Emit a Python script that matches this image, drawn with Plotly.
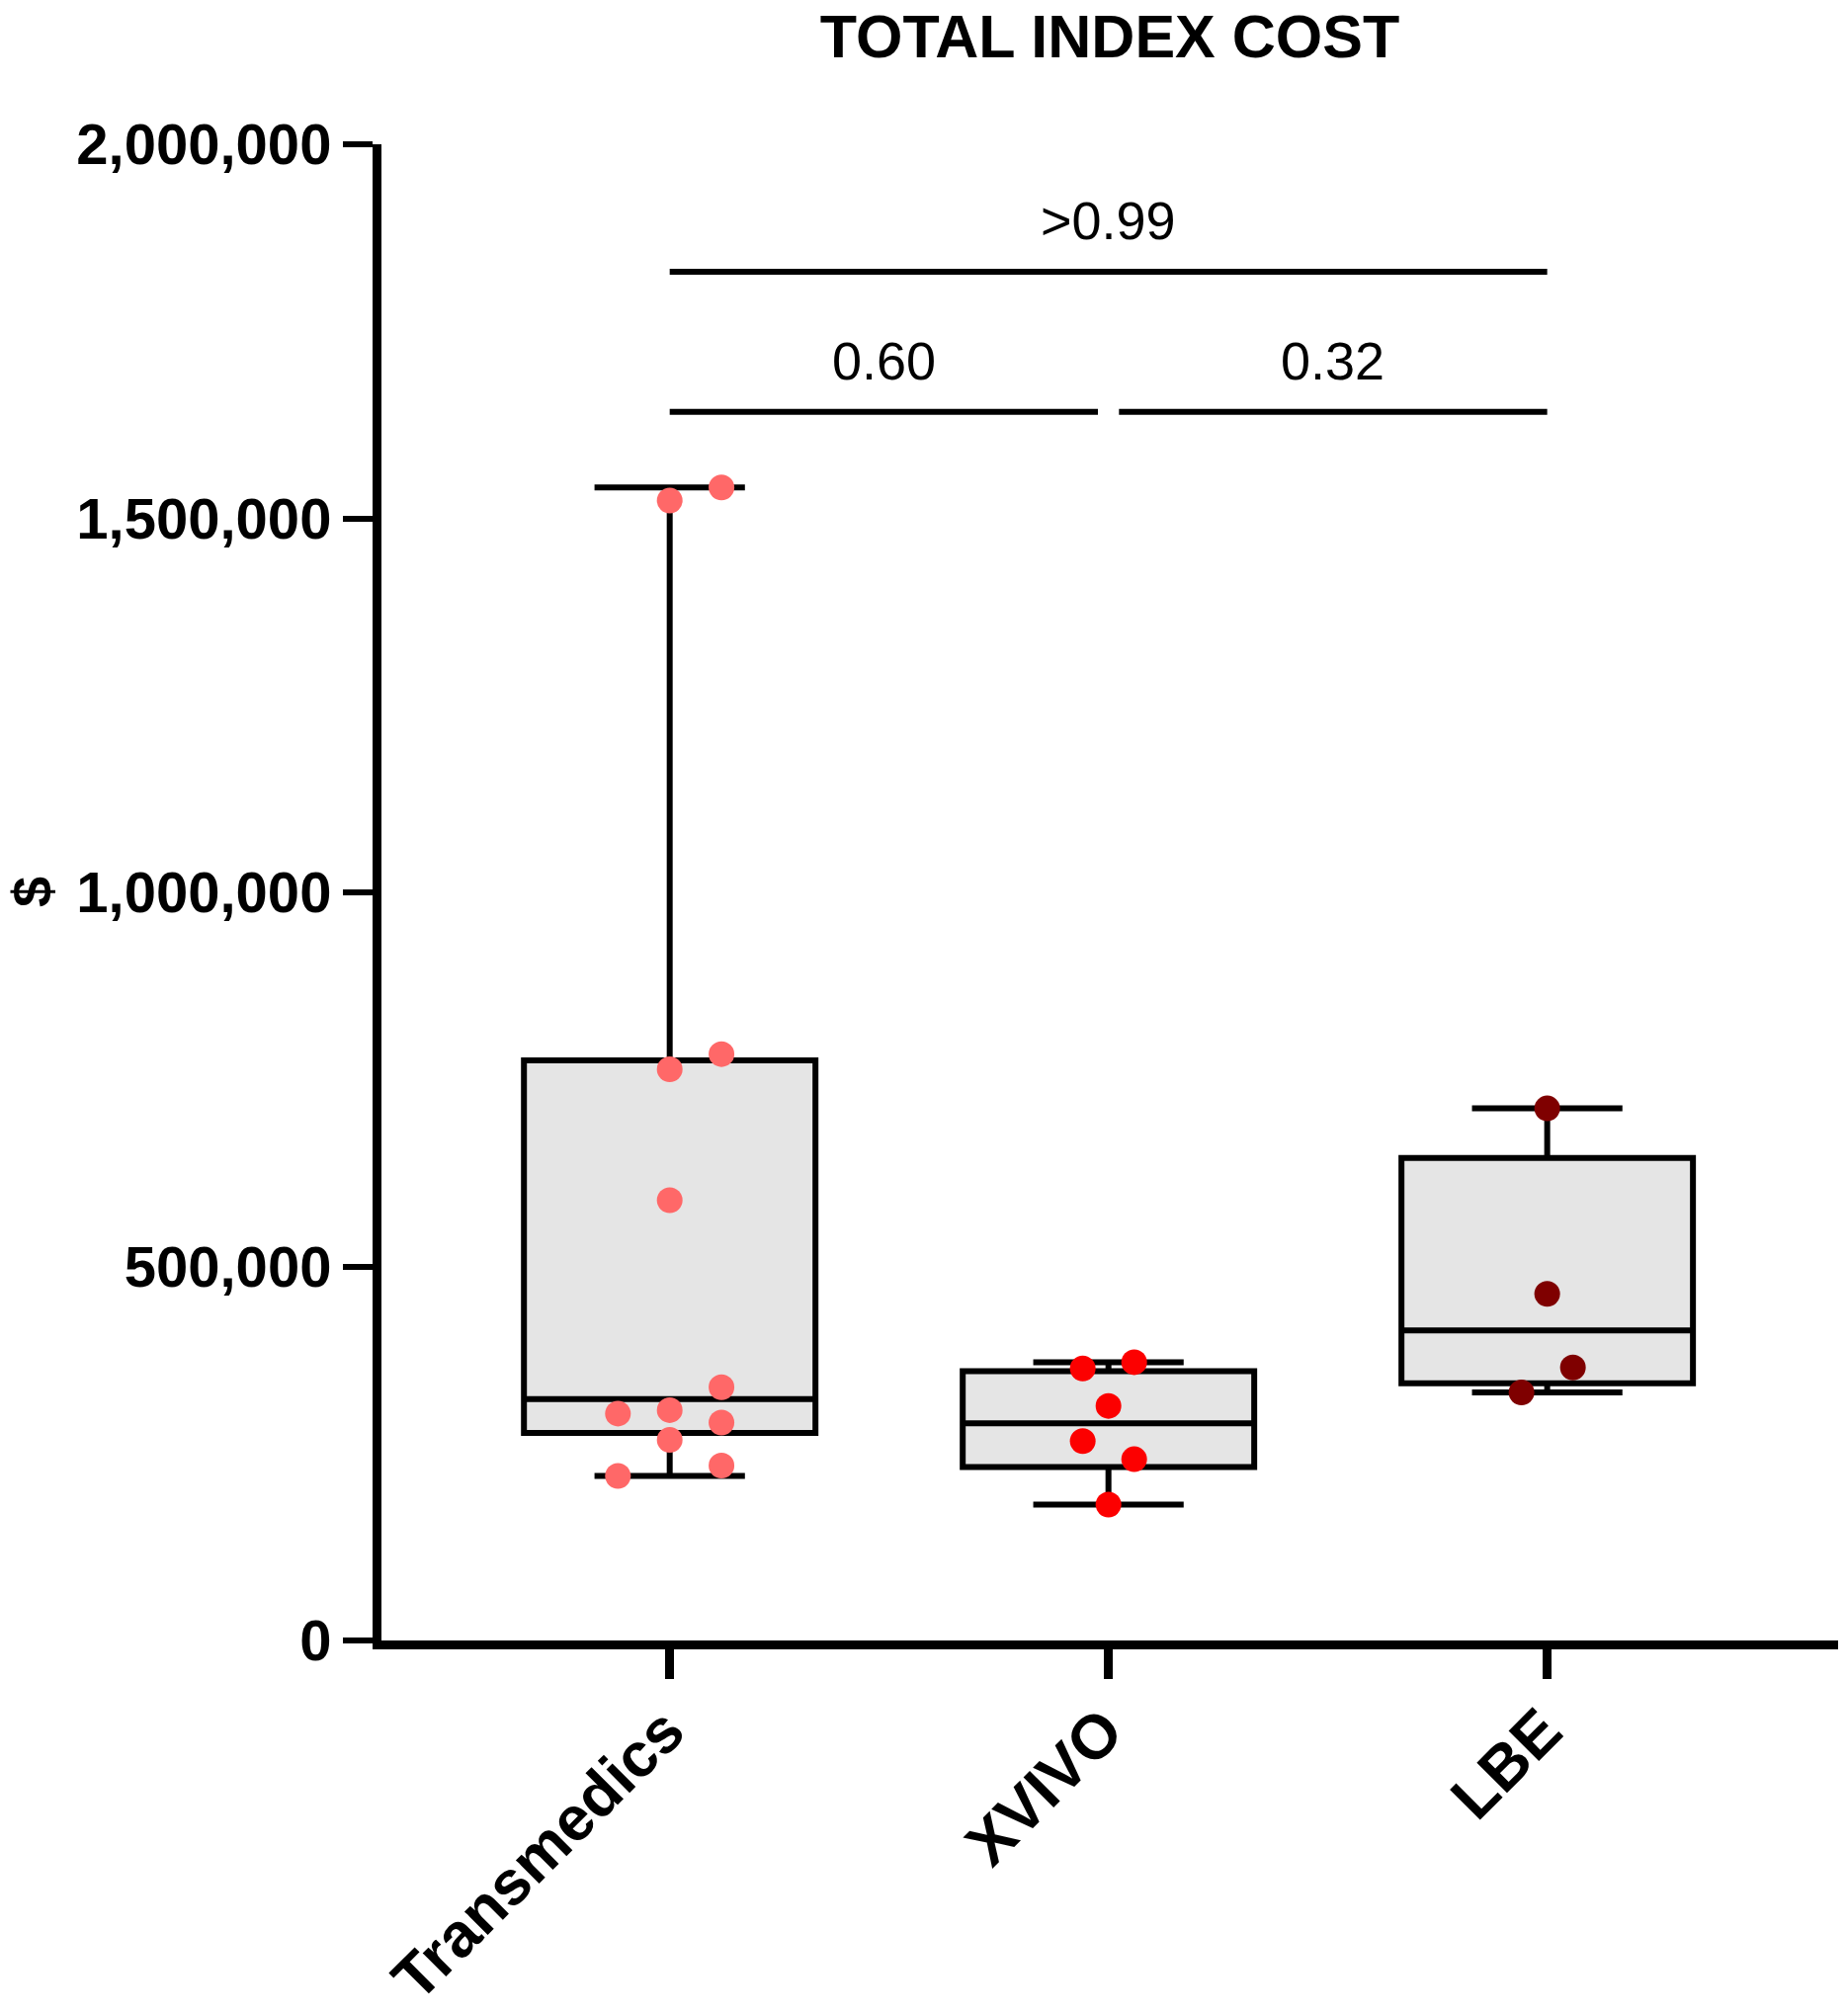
import plotly.graph_objects as go

# ---------------- data ----------------
categories = ["Transmedics", "XVIVO", "LBE"]

transmedics_vals = [1541300, 1523700, 783800, 763500, 588500, 338500,
                    303300, 307900, 291200, 268100, 233800, 219900]
xvivo_vals = [363600, 372000, 313500, 266500, 242300, 181700]
lbe_vals = [711200, 463400, 364900, 331500]

# box summaries (as drawn)
box_q1 = [277400, 231800, 343800]
box_median = [322700, 290300, 414600]
box_q3 = [775500, 360100, 644900]
box_low = [219900, 181700, 331500]
box_high = [1541300, 372000, 711200]

# p-value comparisons: (group a, group b, label)
comparisons = [(0, 2, ">0.99"), (0, 1, "0.60"), (1, 2, "0.32")]
comparison_levels = [1829600, 1642400, 1642400]

y_ticks = [0, 500000, 1000000, 1500000, 2000000]

# ---------------- layout / style ----------------
# point column slots (-1 left, 0 centre, +1 right) and spacing per group
transmedics_slot = [1, 0, 1, 0, 0, 1, -1, 0, 1, 0, 1, -1]
xvivo_slot = [-1, 1, 0, -1, 1, 0]
lbe_slot = [0, 0, 1, -1]
slot_spacing = [0.118, 0.0586, 0.0586]

point_colors = ["#FF6868", "#FC0000", "#7F0000"]
FONT = "Liberation Sans, Arial, Helvetica, sans-serif"

values = [transmedics_vals, xvivo_vals, lbe_vals]
slots = [transmedics_slot, xvivo_slot, lbe_slot]

fig = go.Figure()

for i, cat in enumerate(categories):
    fig.add_trace(go.Box(
        x=[i], q1=[box_q1[i]], median=[box_median[i]], q3=[box_q3[i]],
        lowerfence=[box_low[i]], upperfence=[box_high[i]],
        width=0.6644, whiskerwidth=0.516,
        fillcolor="#E5E5E5", line=dict(color="black", width=6),
        boxpoints=False, showlegend=False, name=cat, hoverinfo="skip",
    ))

for i, cat in enumerate(categories):
    xs = [i + s * slot_spacing[i] for s in slots[i]]
    fig.add_trace(go.Scatter(
        x=xs, y=values[i], mode="markers",
        marker=dict(size=26, color=point_colors[i], line=dict(width=0)),
        showlegend=False, name=cat, cliponaxis=False,
    ))

# significance bars
trim = 0.024
for (a, b, label), lvl in zip(comparisons, comparison_levels):
    x0, x1 = a, b
    for (c, d, _), l2 in zip(comparisons, comparison_levels):
        if l2 == lvl and (c, d) != (a, b):
            if d == a:
                x0 = a + trim
            if c == b:
                x1 = b - trim
    fig.add_shape(type="line", xref="x", yref="y", x0=x0, x1=x1, y0=lvl, y1=lvl,
                  line=dict(color="black", width=6))
    fig.add_annotation(x=(x0 + x1) / 2, y=lvl, xref="x", yref="y", text=label,
                       showarrow=False, yanchor="middle", yshift=52,
                       font=dict(family=FONT, size=54, color="black"))

# y axis title "$"
fig.add_annotation(xref="paper", yref="paper", x=(32 - 386) / 1474, y=0.5,
                   text="$", textangle=-90, showarrow=False,
                   xanchor="center", yanchor="middle",
                   font=dict(family=FONT, size=56, color="black", weight="bold"))

fig.update_layout(
    width=1868, height=2040,
    margin=dict(l=386, r=8, t=146, b=380, pad=0),
    plot_bgcolor="white", paper_bgcolor="white",
    title=dict(text="TOTAL INDEX COST", x=0.5, xref="paper", xanchor="center",
               y=1 - 37 / 2040, yref="container", yanchor="middle",
               font=dict(family=FONT, size=61, color="black", weight="bold")),
    xaxis=dict(
        range=[-0.657, 2.663], tickmode="array", tickvals=[0, 1, 2],
        ticktext=categories, tickangle=-45, automargin=False,
        showline=True, linecolor="black", linewidth=9,
        ticks="outside", ticklen=30, tickwidth=9, tickcolor="black",
        showgrid=False, zeroline=False, ticklabelshift=-4,
        ticklabelstandoff=-10,
        tickfont=dict(family=FONT, size=63, color="black", weight="bold"),
    ),
    yaxis=dict(
        range=[0, 2000000], tickmode="array", tickvals=y_ticks,
        tickformat=",d", automargin=False,
        showline=True, linecolor="black", linewidth=9,
        ticks="outside", ticklen=30, tickwidth=6, tickcolor="black",
        showgrid=False, zeroline=False,
        tickfont=dict(family=FONT, size=58, color="black", weight="bold"),
    ),
)

fig.write_html("out.html", config={"displayModeBar": False},
               post_script="document.body.style.margin='0';")
